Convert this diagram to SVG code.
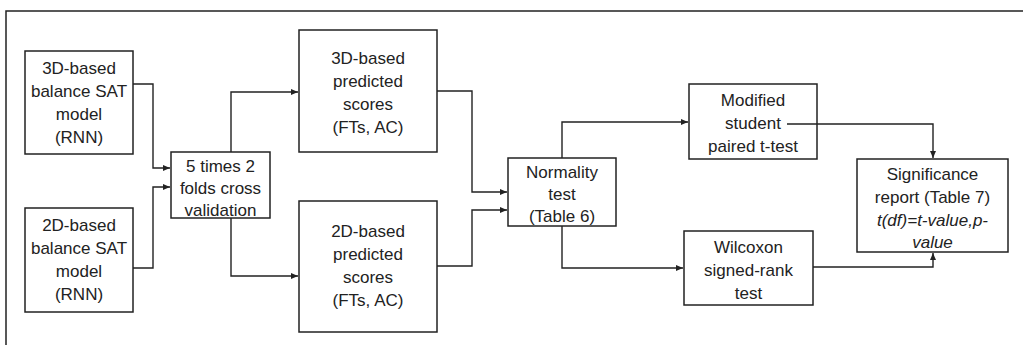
<svg xmlns="http://www.w3.org/2000/svg" width="1023" height="345" viewBox="0 0 1023 345">
<style>
.box{fill:#fff;stroke:#222;stroke-width:1.5}
.t{font-family:"Liberation Sans",Arial,sans-serif;font-size:17px;fill:#222;text-anchor:middle}
.i{font-style:italic}
.c{fill:none;stroke:#222;stroke-width:1.4}
</style>
<defs>
<marker id="ah" markerWidth="8" markerHeight="6" refX="7" refY="3" orient="auto" markerUnits="userSpaceOnUse">
<path d="M0,0 L7,3 L0,6 z" fill="#222"/>
</marker>
</defs>
<rect width="1023" height="345" fill="#fff"/>
<path d="M6,345 V11 H1023" fill="none" stroke="#222" stroke-width="1.5"/>
<g id="connectors">
<path class="c" d="M133,84 H153 V168 H170" marker-end="url(#ah)"/>
<path class="c" d="M133,268 H153 V187 H170" marker-end="url(#ah)"/>
<path class="c" d="M231,152 V92 H298" marker-end="url(#ah)"/>
<path class="c" d="M231,218 V276 H298" marker-end="url(#ah)"/>
<path class="c" d="M437,91 H472 V192 H507" marker-end="url(#ah)"/>
<path class="c" d="M437,266 H472 V210 H507" marker-end="url(#ah)"/>
<path class="c" d="M562,158 V122 H688" marker-end="url(#ah)"/>
<path class="c" d="M562,226 V268 H683" marker-end="url(#ah)"/>
<path class="c" d="M813,267 H933 V253" marker-end="url(#ah)"/>
</g>
<g id="n3dmodel">
<rect class="box" x="25" y="51" width="108" height="103"/>
<text class="t" x="79" y="74">3D-based</text>
<text class="t" x="79" y="97">balance SAT</text>
<text class="t" x="79" y="120">model</text>
<text class="t" x="79" y="143">(RNN)</text>
</g>
<g id="n2dmodel">
<rect class="box" x="25" y="208" width="108" height="104"/>
<text class="t" x="79" y="231">2D-based</text>
<text class="t" x="79" y="254">balance SAT</text>
<text class="t" x="79" y="277">model</text>
<text class="t" x="79" y="300">(RNN)</text>
</g>
<g id="ncv">
<rect class="box" x="171" y="152" width="99" height="66"/>
<text class="t" x="220.5" y="172">5 times 2</text>
<text class="t" x="220.5" y="194">folds cross</text>
<text class="t" x="220.5" y="216">validation</text>
</g>
<g id="n3dpred">
<rect class="box" x="299" y="30" width="138" height="122"/>
<text class="t" x="368" y="64">3D-based</text>
<text class="t" x="368" y="87">predicted</text>
<text class="t" x="368" y="110">scores</text>
<text class="t" x="368" y="133">(FTs, AC)</text>
</g>
<g id="n2dpred">
<rect class="box" x="299" y="201" width="138" height="131"/>
<text class="t" x="368" y="237">2D-based</text>
<text class="t" x="368" y="260">predicted</text>
<text class="t" x="368" y="283">scores</text>
<text class="t" x="368" y="306">(FTs, AC)</text>
</g>
<g id="nnorm">
<rect class="box" x="508" y="158" width="108" height="68"/>
<text class="t" x="562" y="178">Normality</text>
<text class="t" x="562" y="200">test</text>
<text class="t" x="562" y="222">(Table 6)</text>
</g>
<g id="nmod">
<rect class="box" x="689" y="84" width="128" height="75"/>
<text class="t" x="753" y="106">Modified</text>
<text class="t" x="753" y="129">student</text>
<text class="t" x="753" y="152">paired t-test</text>
<path class="c" d="M787,124 H933 V158" marker-end="url(#ah)"/>
</g>
<g id="nwil">
<rect class="box" x="684" y="231" width="129" height="74"/>
<text class="t" x="748.5" y="253">Wilcoxon</text>
<text class="t" x="748.5" y="276">signed-rank</text>
<text class="t" x="748.5" y="299">test</text>
</g>
<g id="nsig">
<rect class="box" x="857" y="159" width="151" height="93"/>
<text class="t" x="932.5" y="180">Significance</text>
<text class="t" x="932.5" y="203">report (Table 7)</text>
<text class="t i" x="932.5" y="226">t(df)=t-value,p-</text>
<text class="t i" x="932.5" y="248">value</text>
</g>
</svg>
